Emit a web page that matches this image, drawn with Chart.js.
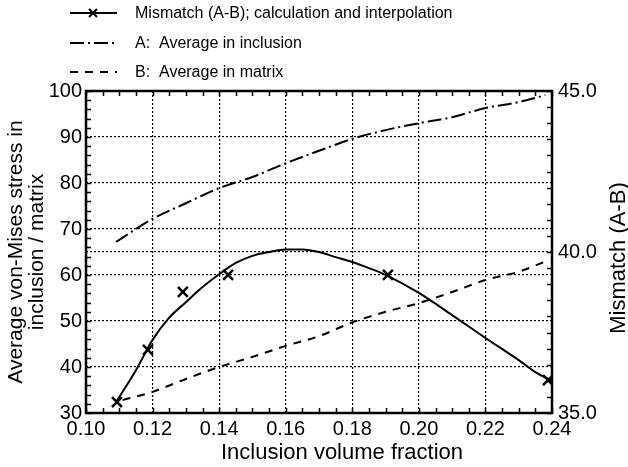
<!DOCTYPE html>
<html>
<head>
<meta charset="utf-8">
<script src="https://cdn.jsdelivr.net/npm/chart.js@4/dist/chart.umd.min.js"></script>
<style>
  body { margin: 0; background: #fff; }
  #wrap { width: 628px; height: 467px; }
</style>
</head>
<body>
<div id="wrap"><canvas id="myChart" width="628" height="467"></canvas></div>
<script>
// values
var fractionsCurve = [0.109, 0.115, 0.12, 0.125, 0.13, 0.135, 0.14, 0.145, 0.15, 0.155, 0.16, 0.165, 0.17, 0.175, 0.18, 0.185, 0.19, 0.20, 0.21, 0.22, 0.23, 0.235, 0.24];
var mismatchCurve  = [35.33, 36.33, 37.27, 37.96, 38.44, 38.91, 39.31, 39.66, 39.88, 40.0, 40.08, 40.08, 40.0, 39.84, 39.69, 39.5, 39.29, 38.73, 38.04, 37.33, 36.64, 36.27, 36.0];

var fractionsCalc = [0.1093, 0.1186, 0.1291, 0.1427, 0.1907, 0.2388];
var mismatchCalc  = [35.34, 36.96, 38.76, 39.29, 39.29, 36.02];

var fractionsA = [0.109, 0.12, 0.13, 0.14, 0.15, 0.16, 0.17, 0.18, 0.19, 0.20, 0.21, 0.22, 0.23, 0.238];
var stressA    = [67.2, 72.2, 75.6, 78.9, 81.3, 84.3, 87.0, 89.6, 91.5, 93.0, 94.3, 96.3, 97.6, 99.1];

var fractionsB = [0.111, 0.12, 0.13, 0.14, 0.15, 0.16, 0.17, 0.18, 0.19, 0.20, 0.21, 0.22, 0.23, 0.2375];
var stressB    = [32.8, 34.6, 37.4, 40.0, 42.2, 44.6, 46.7, 49.7, 52.0, 53.9, 56.3, 58.9, 60.7, 62.8];

var legendLabels = ["Mismatch (A-B); calculation and interpolation", "A:  Average in inclusion", "B:  Average in matrix"];
var leftTitle = ["Average von-Mises stress in", "inclusion / matrix"];
var rightTitle = "Mismatch (A-B)";
var bottomTitle = "Inclusion volume fraction";

function pts(xs, ys){
    var out = [];
    for (var i = 0; i < xs.length; i++) out.push({x: xs[i], y: ys[i]});
    return out;
}

var FONT = "'Liberation Sans', Arial, sans-serif";

// legend, titles, frame and the inward tick marks
var decor = {
    id: 'decor',
    afterDraw: function(chart){
        var ctx = chart.ctx;
        var a = chart.chartArea;
        var sx = chart.scales.x, sy = chart.scales.y, sy1 = chart.scales.y1;
        ctx.save();
        ctx.strokeStyle = '#000';
        ctx.lineWidth = 1.5;
        ctx.beginPath();
        var v;
        for (v = 0.10; v <= 0.2401; v += 0.005){
            var px = Math.round(sx.getPixelForValue(v)) + 0.5;
            ctx.moveTo(px, a.bottom); ctx.lineTo(px, a.bottom - 5);
            ctx.moveTo(px, a.top); ctx.lineTo(px, a.top + 5);
        }
        for (v = 30; v <= 100; v += 2){
            var py = Math.round(sy.getPixelForValue(v)) + 0.5;
            ctx.moveTo(a.left, py); ctx.lineTo(a.left + 5, py);
        }
        for (v = 35; v <= 45.001; v += 0.5){
            var py1 = Math.round(sy1.getPixelForValue(v)) + 0.5;
            ctx.moveTo(a.right, py1); ctx.lineTo(a.right - 5, py1);
        }
        ctx.stroke();
        ctx.lineWidth = 2.5;
        ctx.strokeRect(a.left, a.top, a.right - a.left, a.bottom - a.top);

        // legend
        var ys = [13, 43, 72];
        var dashes = [[], [14, 4, 2, 4], [8, 7]];
        ctx.font = '16px ' + FONT;
        ctx.fillStyle = '#000';
        ctx.textBaseline = 'middle';
        for (var i = 0; i < 3; i++){
            ctx.lineWidth = 2;
            ctx.setLineDash(dashes[i]);
            ctx.beginPath();
            ctx.moveTo(70, ys[i]); ctx.lineTo(117, ys[i]);
            ctx.stroke();
            ctx.setLineDash([]);
            ctx.fillText(legendLabels[i], 135, ys[i] + 1);
        }
        ctx.lineWidth = 2;
        ctx.beginPath();
        ctx.moveTo(89, 9); ctx.lineTo(97, 17);
        ctx.moveTo(97, 9); ctx.lineTo(89, 17);
        ctx.stroke();

        // axis titles
        var midY = (a.top + a.bottom) / 2;
        ctx.textAlign = 'center';
        ctx.font = '21px ' + FONT;
        ctx.save();
        ctx.translate(16, midY);
        ctx.rotate(-Math.PI / 2);
        ctx.fillText(leftTitle[0], 0, 0);
        ctx.restore();
        ctx.save();
        ctx.translate(37, midY);
        ctx.rotate(-Math.PI / 2);
        ctx.fillText(leftTitle[1], 0, 0);
        ctx.restore();
        ctx.save();
        ctx.font = '22px ' + FONT;
        ctx.translate(619, 258);
        ctx.rotate(-Math.PI / 2);
        ctx.fillText(rightTitle, 0, 0);
        ctx.restore();
        ctx.font = '22px ' + FONT;
        ctx.fillText(bottomTitle, 342, 453);
        ctx.restore();
    }
};

var ctx = document.getElementById('myChart').getContext('2d');
var myChart = new Chart(ctx, {
    type: 'scatter',
    data: {
        datasets: [{
            label: 'interpolation',
            data: pts(fractionsCurve, mismatchCurve),
            yAxisID: 'y1',
            showLine: true,
            borderColor: '#000',
            borderWidth: 2,
            pointRadius: 0,
            cubicInterpolationMode: 'monotone'
        }, {
            label: 'calculation',
            data: pts(fractionsCalc, mismatchCalc),
            yAxisID: 'y1',
            showLine: false,
            pointStyle: 'crossRot',
            pointRadius: 7,
            borderColor: '#000',
            borderWidth: 2.5
        }, {
            label: 'A',
            data: pts(fractionsA, stressA),
            yAxisID: 'y',
            showLine: true,
            borderColor: '#000',
            borderWidth: 2,
            borderDash: [14, 4, 2, 4],
            pointRadius: 0,
            cubicInterpolationMode: 'monotone'
        }, {
            label: 'B',
            data: pts(fractionsB, stressB),
            yAxisID: 'y',
            showLine: true,
            borderColor: '#000',
            borderWidth: 2,
            borderDash: [8, 7],
            pointRadius: 0,
            cubicInterpolationMode: 'monotone'
        }]
    },
    options: {
        responsive: false,
        animation: false,
        devicePixelRatio: 1,
        layout: { padding: { top: 91 } },
        plugins: { legend: { display: false }, tooltip: { enabled: false } },
        scales: {
            x: {
                type: 'linear', min: 0.10, max: 0.24,
                afterFit: function(s){ s.height = 54; },
                ticks: { stepSize: 0.02, color: '#000', padding: 4, font: { family: FONT, size: 20 },
                    callback: function(v){ return v.toFixed(2); } },
                grid: { color: '#000', lineWidth: 1.2, drawTicks: false },
                border: { display: false, dash: [2, 2] }
            },
            y: {
                position: 'left', min: 30, max: 100,
                afterFit: function(s){ s.width = 86; },
                ticks: { stepSize: 10, color: '#000', padding: 4, font: { family: FONT, size: 20 } },
                grid: { color: '#000', lineWidth: 1.2, drawTicks: false },
                border: { display: false, dash: [2, 2] }
            },
            y1: {
                position: 'right', min: 35, max: 45,
                afterFit: function(s){ s.width = 76; },
                ticks: { stepSize: 5, color: '#000', padding: 6, font: { family: FONT, size: 20 },
                    callback: function(v){ return v.toFixed(1); } },
                grid: { lineWidth: 1.2, drawTicks: false,
                    color: function(c){ return (c.tick && c.tick.value === 40) ? '#000' : 'rgba(0,0,0,0)'; } },
                border: { display: false, dash: [2, 2] }
            }
        }
    },
    plugins: [decor]
});
</script>
</body>
</html>
